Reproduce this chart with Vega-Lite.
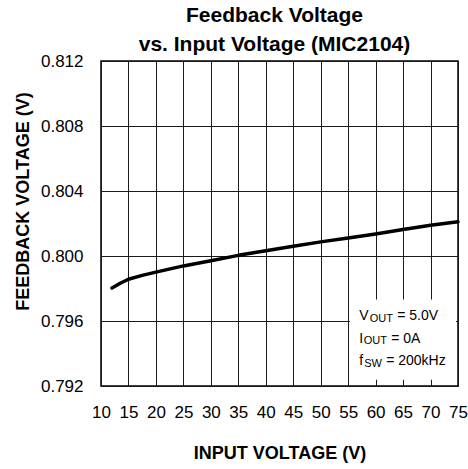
{
  "$schema": "https://vega.github.io/schema/vega-lite/v6.json",
  "width": 357,
  "height": 325,
  "autosize": "none",
  "padding": {"left": 101, "top": 61, "right": 10, "bottom": 83},
  "background": "white",
  "title": {
    "text": ["Feedback Voltage", "vs. Input Voltage (MIC2104)"],
    "font": "Liberation Sans",
    "fontSize": 21,
    "fontWeight": "bold",
    "lineHeight": 29,
    "color": "#000",
    "offset": -3,
    "dx": -5
  },
  "config": {
    "view": {"stroke": "#000", "strokeWidth": 1.5},
    "text": {"font": "Liberation Sans", "fontWeight": "normal", "color": "#000", "align": "left", "baseline": "alphabetic"},
    "axis": {
      "labelFont": "Liberation Sans",
      "labelFontSize": 17,
      "labelColor": "#000",
      "titleFont": "Liberation Sans",
      "titleFontSize": 18,
      "titleFontWeight": "bold",
      "titleColor": "#000",
      "grid": true,
      "gridColor": "#1a1a1a",
      "gridWidth": 1,
      "gridOpacity": 1,
      "domain": false,
      "ticks": false,
      "tickSize": 0,
      "labelOverlap": false,
      "labelFlush": false
    }
  },
  "data": {
    "values": [
      {"vin": 12, "vfb": 0.79803},
      {"vin": 13.5, "vfb": 0.79832},
      {"vin": 15, "vfb": 0.79857},
      {"vin": 17.5, "vfb": 0.79881},
      {"vin": 20, "vfb": 0.79901},
      {"vin": 25, "vfb": 0.79939},
      {"vin": 30, "vfb": 0.79971},
      {"vin": 35, "vfb": 0.80004},
      {"vin": 40, "vfb": 0.80032},
      {"vin": 45, "vfb": 0.80060},
      {"vin": 50, "vfb": 0.80087},
      {"vin": 55, "vfb": 0.80111},
      {"vin": 60, "vfb": 0.80136},
      {"vin": 65, "vfb": 0.80163},
      {"vin": 70, "vfb": 0.80189},
      {"vin": 75, "vfb": 0.80211}
    ]
  },
  "layer": [
    {
      "mark": {"type": "line", "color": "#000", "strokeWidth": 3.5, "strokeCap": "round", "strokeJoin": "round"},
      "encoding": {
        "x": {
          "field": "vin", "type": "quantitative",
          "scale": {"domain": [10, 75], "nice": false, "zero": false},
          "axis": {"title": "INPUT VOLTAGE (V)", "values": [10, 15, 20, 25, 30, 35, 40, 45, 50, 55, 60, 65, 70, 75], "labelPadding": 18, "titleBaseline": "alphabetic", "titleY": 72}
        },
        "y": {
          "field": "vfb", "type": "quantitative",
          "scale": {"domain": [0.792, 0.812], "nice": false, "zero": false},
          "axis": {"title": "FEEDBACK VOLTAGE (V)", "values": [0.792, 0.796, 0.8, 0.804, 0.808, 0.812], "format": ".3f", "labelPadding": 18, "titleBaseline": "alphabetic", "titleX": -73, "titleY": 140}
        }
      }
    },
    {
      "data": {"values": [{}]},
      "mark": {"type": "rect", "fill": "white", "stroke": null},
      "encoding": {
        "x": {"datum": 55.3, "type": "quantitative", "axis": {"title": "INPUT VOLTAGE (V)", "values": [10, 15, 20, 25, 30, 35, 40, 45, 50, 55, 60, 65, 70, 75], "labelPadding": 18, "titleBaseline": "alphabetic", "titleY": 72}},
        "x2": {"datum": 74.64},
        "y": {"datum": 0.79239, "type": "quantitative", "axis": {"title": "FEEDBACK VOLTAGE (V)", "values": [0.792, 0.796, 0.8, 0.804, 0.808, 0.812], "format": ".3f", "labelPadding": 18, "titleBaseline": "alphabetic", "titleX": -73, "titleY": 140}},
        "y2": {"datum": 0.79732}
      }
    },
    {
      "data": {"values": [{}]},
      "layer": [
        {"mark": {"type": "text", "fontSize": 14}, "encoding": {"y": {"datum": 0.79606, "type": "quantitative", "axis": {"title": "FEEDBACK VOLTAGE (V)", "values": [0.792, 0.796, 0.8, 0.804, 0.808, 0.812], "format": ".3f", "labelPadding": 18, "titleBaseline": "alphabetic", "titleX": -73, "titleY": 140}}, "text": {"value": "V"}}},
        {"mark": {"type": "text", "fontSize": 11, "dx": 10.5, "dy": 1.5}, "encoding": {"y": {"datum": 0.79606, "type": "quantitative", "axis": {"title": "FEEDBACK VOLTAGE (V)", "values": [0.792, 0.796, 0.8, 0.804, 0.808, 0.812], "format": ".3f", "labelPadding": 18, "titleBaseline": "alphabetic", "titleX": -73, "titleY": 140}}, "text": {"value": "OUT"}}},
        {"mark": {"type": "text", "fontSize": 14, "dx": 38}, "encoding": {"y": {"datum": 0.79606, "type": "quantitative", "axis": {"title": "FEEDBACK VOLTAGE (V)", "values": [0.792, 0.796, 0.8, 0.804, 0.808, 0.812], "format": ".3f", "labelPadding": 18, "titleBaseline": "alphabetic", "titleX": -73, "titleY": 140}}, "text": {"value": "= 5.0V"}}},
        {"mark": {"type": "text", "fontSize": 14}, "encoding": {"y": {"datum": 0.79465, "type": "quantitative", "axis": {"title": "FEEDBACK VOLTAGE (V)", "values": [0.792, 0.796, 0.8, 0.804, 0.808, 0.812], "format": ".3f", "labelPadding": 18, "titleBaseline": "alphabetic", "titleX": -73, "titleY": 140}}, "text": {"value": "I"}}},
        {"mark": {"type": "text", "fontSize": 11, "dx": 4.5, "dy": 1.5}, "encoding": {"y": {"datum": 0.79465, "type": "quantitative", "axis": {"title": "FEEDBACK VOLTAGE (V)", "values": [0.792, 0.796, 0.8, 0.804, 0.808, 0.812], "format": ".3f", "labelPadding": 18, "titleBaseline": "alphabetic", "titleX": -73, "titleY": 140}}, "text": {"value": "OUT"}}},
        {"mark": {"type": "text", "fontSize": 14, "dx": 32}, "encoding": {"y": {"datum": 0.79465, "type": "quantitative", "axis": {"title": "FEEDBACK VOLTAGE (V)", "values": [0.792, 0.796, 0.8, 0.804, 0.808, 0.812], "format": ".3f", "labelPadding": 18, "titleBaseline": "alphabetic", "titleX": -73, "titleY": 140}}, "text": {"value": "= 0A"}}},
        {"mark": {"type": "text", "fontSize": 14}, "encoding": {"y": {"datum": 0.79329, "type": "quantitative", "axis": {"title": "FEEDBACK VOLTAGE (V)", "values": [0.792, 0.796, 0.8, 0.804, 0.808, 0.812], "format": ".3f", "labelPadding": 18, "titleBaseline": "alphabetic", "titleX": -73, "titleY": 140}}, "text": {"value": "f"}}},
        {"mark": {"type": "text", "fontSize": 11, "dx": 5, "dy": 1.5}, "encoding": {"y": {"datum": 0.79329, "type": "quantitative", "axis": {"title": "FEEDBACK VOLTAGE (V)", "values": [0.792, 0.796, 0.8, 0.804, 0.808, 0.812], "format": ".3f", "labelPadding": 18, "titleBaseline": "alphabetic", "titleX": -73, "titleY": 140}}, "text": {"value": "SW"}}},
        {"mark": {"type": "text", "fontSize": 14, "dx": 27}, "encoding": {"y": {"datum": 0.79329, "type": "quantitative", "axis": {"title": "FEEDBACK VOLTAGE (V)", "values": [0.792, 0.796, 0.8, 0.804, 0.808, 0.812], "format": ".3f", "labelPadding": 18, "titleBaseline": "alphabetic", "titleX": -73, "titleY": 140}}, "text": {"value": "= 200kHz"}}}
      ],
      "encoding": {
        "x": {"datum": 57, "type": "quantitative", "axis": {"title": "INPUT VOLTAGE (V)", "values": [10, 15, 20, 25, 30, 35, 40, 45, 50, 55, 60, 65, 70, 75], "labelPadding": 18, "titleBaseline": "alphabetic", "titleY": 72}}
      }
    }
  ]
}
